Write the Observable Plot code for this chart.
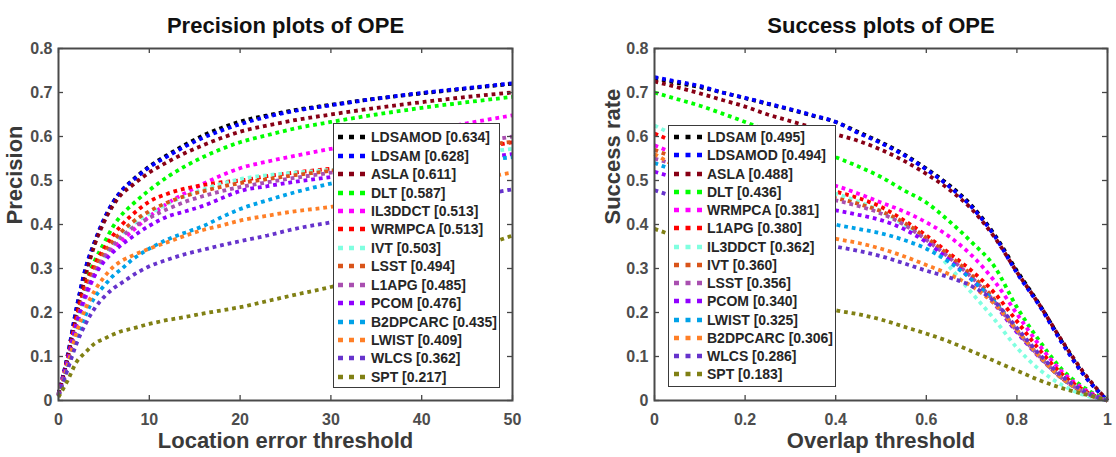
<!DOCTYPE html>
<html><head><meta charset="utf-8">
<script src="https://cdn.jsdelivr.net/npm/d3@7"></script>
<script src="https://cdn.jsdelivr.net/npm/@observablehq/plot@0.6"></script>
<style>
body{margin:0;background:#fff;font-family:"Liberation Sans",Arial,sans-serif;}
#wrap{position:relative;width:1116px;height:457px;overflow:hidden;background:#fff;}
.panel{position:absolute;top:0;}
.legend{position:absolute;background:#fff;border:1.5px solid #3a3a3a;box-sizing:border-box;}
.row{display:flex;align-items:center;font-weight:bold;font-size:14px;color:#262626;white-space:nowrap;}
.row svg{flex:none;}
</style>
</head><body><div id="wrap"></div>
<script>
// ---------- shared ----------
const rankColors = ["#000000","#0000ff","#880015","#00ff00","#ff00ff","#ff0000","#80ffe0","#d9541a","#a94fb0","#9100ff","#00a2e8","#ff7f27","#6633cc","#808014"];
const yTicks = [0,0.1,0.2,0.3,0.4,0.5,0.6,0.7,0.8];

// ---------- precision plot ----------
const precisionThresholds = [0,1,2,3,4,5,6,7,8,10,12,14,16,18,20,23,26,30,35,40,45,50];
const precisionTicks = [0,10,20,30,40,50];
const precisionNames = ["LDSAMOD","LDSAM","ASLA","DLT","IL3DDCT","WRMPCA","IVT","LSST","L1APG","PCOM","B2DPCARC","LWIST","WLCS","SPT"];
const precisionScores = ["0.634","0.628","0.611","0.587","0.513","0.513","0.503","0.494","0.485","0.476","0.435","0.409","0.362","0.217"];
const P_LDSAMOD  = [0.015,0.10,0.21,0.30,0.36,0.41,0.45,0.478,0.498,0.532,0.558,0.582,0.603,0.62,0.634,0.648,0.66,0.672,0.686,0.698,0.709,0.72];
const P_LDSAM    = [0.015,0.102,0.212,0.302,0.362,0.412,0.45,0.478,0.497,0.53,0.555,0.578,0.598,0.614,0.628,0.645,0.658,0.671,0.686,0.699,0.71,0.721];
const P_ASLA     = [0.015,0.095,0.195,0.285,0.355,0.405,0.443,0.47,0.487,0.518,0.542,0.563,0.581,0.597,0.611,0.625,0.637,0.65,0.665,0.678,0.69,0.70];
const P_DLT      = [0.012,0.085,0.18,0.265,0.318,0.357,0.395,0.423,0.443,0.478,0.508,0.533,0.554,0.572,0.587,0.603,0.618,0.633,0.65,0.665,0.678,0.69];
const P_IL3DDCT  = [0.012,0.085,0.17,0.235,0.285,0.32,0.345,0.365,0.383,0.418,0.448,0.472,0.493,0.512,0.528,0.543,0.556,0.572,0.59,0.61,0.63,0.648];
const P_WRMPCA   = [0.012,0.095,0.19,0.265,0.31,0.345,0.375,0.40,0.42,0.452,0.47,0.482,0.49,0.496,0.5,0.51,0.518,0.527,0.54,0.555,0.57,0.587];
const P_IVT      = [0.01,0.085,0.17,0.24,0.29,0.325,0.355,0.378,0.397,0.425,0.447,0.465,0.48,0.493,0.503,0.512,0.518,0.524,0.535,0.548,0.56,0.572];
const P_LSST     = [0.012,0.09,0.18,0.25,0.3,0.335,0.362,0.385,0.403,0.43,0.45,0.465,0.476,0.486,0.494,0.503,0.512,0.522,0.54,0.558,0.575,0.588];
const P_L1APG    = [0.012,0.088,0.175,0.245,0.29,0.325,0.352,0.373,0.39,0.415,0.435,0.452,0.465,0.476,0.485,0.496,0.506,0.518,0.54,0.562,0.582,0.60];
const P_PCOM     = [0.012,0.09,0.175,0.24,0.285,0.315,0.337,0.355,0.37,0.397,0.418,0.43,0.443,0.46,0.476,0.487,0.497,0.508,0.522,0.536,0.548,0.56];
const P_B2DPCARC = [0.01,0.075,0.14,0.195,0.235,0.26,0.283,0.3,0.318,0.345,0.366,0.382,0.397,0.417,0.435,0.455,0.473,0.493,0.512,0.528,0.542,0.553];
const P_LWIST    = [0.01,0.08,0.155,0.21,0.25,0.28,0.303,0.318,0.328,0.345,0.36,0.375,0.388,0.398,0.409,0.42,0.43,0.44,0.46,0.48,0.5,0.518];
const P_WLCS     = [0.01,0.07,0.13,0.175,0.21,0.235,0.254,0.268,0.282,0.305,0.32,0.333,0.343,0.353,0.362,0.375,0.39,0.405,0.425,0.445,0.462,0.48];
const P_SPT      = [0.008,0.045,0.088,0.11,0.13,0.14,0.15,0.158,0.163,0.174,0.183,0.19,0.198,0.205,0.212,0.226,0.24,0.258,0.285,0.31,0.34,0.375];
const precisionSeries = [P_LDSAMOD,P_LDSAM,P_ASLA,P_DLT,P_IL3DDCT,P_WRMPCA,P_IVT,P_LSST,P_L1APG,P_PCOM,P_B2DPCARC,P_LWIST,P_WLCS,P_SPT];

// ---------- success plot ----------
const successThresholds = [0,0.05,0.1,0.15,0.2,0.25,0.3,0.35,0.4,0.45,0.5,0.55,0.6,0.65,0.7,0.75,0.8,0.85,0.9,0.95,1];
const successTicks = [0,0.2,0.4,0.6,0.8,1];
const successNames = ["LDSAM","LDSAMOD","ASLA","DLT","WRMPCA","L1APG","IL3DDCT","IVT","LSST","PCOM","LWIST","B2DPCARC","WLCS","SPT"];
const successScores = ["0.495","0.494","0.488","0.436","0.381","0.380","0.362","0.360","0.356","0.340","0.325","0.306","0.286","0.183"];
const S_LDSAM    = [0.732,0.722,0.712,0.70,0.687,0.674,0.661,0.647,0.633,0.61,0.587,0.56,0.527,0.49,0.443,0.378,0.295,0.218,0.133,0.056,0];
const S_LDSAMOD  = [0.735,0.725,0.715,0.70,0.688,0.675,0.662,0.648,0.633,0.608,0.585,0.558,0.525,0.487,0.44,0.375,0.29,0.215,0.13,0.055,0];
const S_ASLA     = [0.725,0.712,0.698,0.683,0.668,0.65,0.635,0.62,0.605,0.59,0.57,0.545,0.515,0.48,0.435,0.372,0.292,0.217,0.135,0.06,0];
const S_DLT      = [0.70,0.685,0.67,0.652,0.633,0.613,0.594,0.574,0.553,0.532,0.508,0.478,0.45,0.408,0.36,0.305,0.212,0.135,0.07,0.028,0];
const S_WRMPCA   = [0.58,0.56,0.545,0.54,0.53,0.52,0.51,0.5,0.488,0.47,0.45,0.43,0.405,0.373,0.33,0.272,0.197,0.125,0.065,0.025,0];
const S_L1APG    = [0.607,0.585,0.565,0.548,0.532,0.518,0.504,0.49,0.475,0.46,0.44,0.41,0.375,0.335,0.295,0.245,0.18,0.115,0.06,0.022,0];
const S_IL3DDCT  = [0.625,0.60,0.575,0.555,0.535,0.518,0.5,0.485,0.47,0.452,0.43,0.4,0.36,0.305,0.245,0.185,0.12,0.07,0.035,0.012,0];
const S_IVT      = [0.57,0.55,0.535,0.52,0.506,0.494,0.482,0.47,0.46,0.447,0.43,0.405,0.37,0.33,0.285,0.23,0.16,0.1,0.05,0.018,0];
const S_LSST     = [0.55,0.535,0.522,0.51,0.498,0.487,0.476,0.465,0.455,0.442,0.425,0.4,0.365,0.325,0.28,0.225,0.158,0.1,0.05,0.018,0];
const S_PCOM     = [0.52,0.505,0.492,0.48,0.47,0.46,0.45,0.44,0.432,0.422,0.41,0.39,0.36,0.32,0.275,0.22,0.155,0.098,0.05,0.018,0];
const S_LWIST    = [0.54,0.52,0.5,0.48,0.462,0.445,0.43,0.415,0.4,0.39,0.38,0.365,0.345,0.315,0.275,0.225,0.16,0.1,0.05,0.018,0];
const S_B2DPCARC = [0.56,0.53,0.5,0.47,0.445,0.425,0.405,0.385,0.368,0.358,0.345,0.328,0.308,0.287,0.26,0.22,0.16,0.1,0.05,0.018,0];
const S_WLCS     = [0.478,0.46,0.44,0.42,0.405,0.39,0.376,0.362,0.35,0.34,0.328,0.312,0.295,0.28,0.26,0.225,0.165,0.105,0.055,0.02,0];
const S_SPT      = [0.39,0.37,0.34,0.31,0.28,0.26,0.24,0.22,0.205,0.196,0.184,0.168,0.152,0.134,0.112,0.09,0.068,0.046,0.028,0.014,0];
const successSeries = [S_LDSAM,S_LDSAMOD,S_ASLA,S_DLT,S_WRMPCA,S_L1APG,S_IL3DDCT,S_IVT,S_LSST,S_PCOM,S_LWIST,S_B2DPCARC,S_WLCS,S_SPT];

const wrap = document.getElementById("wrap");
const FONT = "'Liberation Sans', Arial, sans-serif";

function makePanel(o) {
  const rows = [];
  o.names.forEach((name, i) => o.series[i].forEach((v, j) => rows.push({name, x: o.xs[j], y: v})));
  const W = 558, H = 457, mt = 48, mb = 57;
  const ih = H - mt - mb;
  const iw = W - o.marginLeft - o.marginRight;
  const tickStyle = {stroke: "#454545", strokeWidth: 1.3};
  const chart = Plot.plot({
    width: W, height: H,
    marginLeft: o.marginLeft, marginRight: o.marginRight, marginTop: mt, marginBottom: mb,
    style: {fontFamily: FONT, background: "transparent", overflow: "visible"},
    x: {domain: o.xDomain},
    y: {domain: [0, 0.8]},
    color: {domain: o.names, range: rankColors},
    marks: [
      Plot.line(rows, {x: "x", y: "y", z: "name", stroke: "name", strokeWidth: 3.8, strokeDasharray: "3.8 3.9", strokeLinecap: "butt", strokeLinejoin: "miter", curve: "monotone-x"}),
      Plot.ruleX(o.xTicks, {insetTop: ih - 5, ...tickStyle}),
      Plot.ruleX(o.xTicks, {insetBottom: ih - 5, ...tickStyle}),
      Plot.ruleY(yTicks, {insetRight: iw - 5, ...tickStyle}),
      Plot.ruleY(yTicks, {insetLeft: iw - 5, ...tickStyle}),
      Plot.frame({stroke: "#4a4a4a", strokeWidth: 2}),
      Plot.axisX(o.xTicks, {tickSize: 0, tickPadding: 13, fontSize: 16, fontWeight: "bold", fill: "#4d4d4d", label: null, tickFormat: d => String(d)}),
      Plot.axisY(yTicks, {tickSize: 0, tickPadding: 6, fontSize: 16, fontWeight: "bold", fill: "#4d4d4d", label: null, tickFormat: d => String(d)}),
      Plot.text([o.xLabel], {text: d => d, frameAnchor: "bottom", dy: 47, fontSize: 22, fontWeight: "bold", fill: "#3a3a3a"}),
      Plot.text([o.yLabel], {text: d => d, frameAnchor: "left", dx: o.yLabelDx, rotate: -90, fontSize: 22, fontWeight: "bold", fill: "#3a3a3a"}),
      Plot.text([o.title], {text: d => d, frameAnchor: "top", dy: -31, fontSize: 22, fontWeight: "bold", fill: "#111"})
    ]
  });
  const div = document.createElement("div");
  div.className = "panel";
  div.style.left = o.left + "px";
  div.appendChild(chart);
  wrap.appendChild(div);

  // legend (HTML overlay)
  const lg = document.createElement("div");
  lg.className = "legend";
  Object.assign(lg.style, o.legendBox);
  o.names.forEach((name, i) => {
    const r = document.createElement("div");
    r.className = "row";
    r.style.height = o.rowH + "px";
    r.innerHTML = `<svg width="${o.sampleW}" height="8" style="margin-right:${o.gap}px"><line x1="0" x2="${o.sampleW}" y1="4" y2="4" stroke="${rankColors[i]}" stroke-width="4.5" stroke-dasharray="${o.sampleDash}"/></svg><span>${name} [${o.scores[i]}]</span>`;
    lg.appendChild(r);
  });
  wrap.appendChild(lg);
}

makePanel({
  left: 0, marginLeft: 58, marginRight: 46,
  xDomain: [0, 50], xTicks: precisionTicks, xs: precisionThresholds,
  names: precisionNames, series: precisionSeries, scores: precisionScores,
  xLabel: "Location error threshold", yLabel: "Precision", yLabelDx: -44,
  title: "Precision plots of OPE",
  legendBox: {left: "333px", top: "123px", width: "167px", height: "265px", padding: "4px 0 0 4px"},
  rowH: 18.45, sampleW: 29, gap: 4, sampleDash: "5 6"
});
makePanel({
  left: 558, marginLeft: 96, marginRight: 9,
  xDomain: [0, 1], xTicks: successTicks, xs: successThresholds,
  names: successNames, series: successSeries, scores: successScores,
  xLabel: "Overlap threshold", yLabel: "Success rate", yLabelDx: -42,
  title: "Success plots of OPE",
  legendBox: {left: "668px", top: "125px", width: "168px", height: "262px", padding: "2px 0 0 5px"},
  rowH: 18.25, sampleW: 28, gap: 5, sampleDash: "5 6.5"
});
</script>
</body></html>
